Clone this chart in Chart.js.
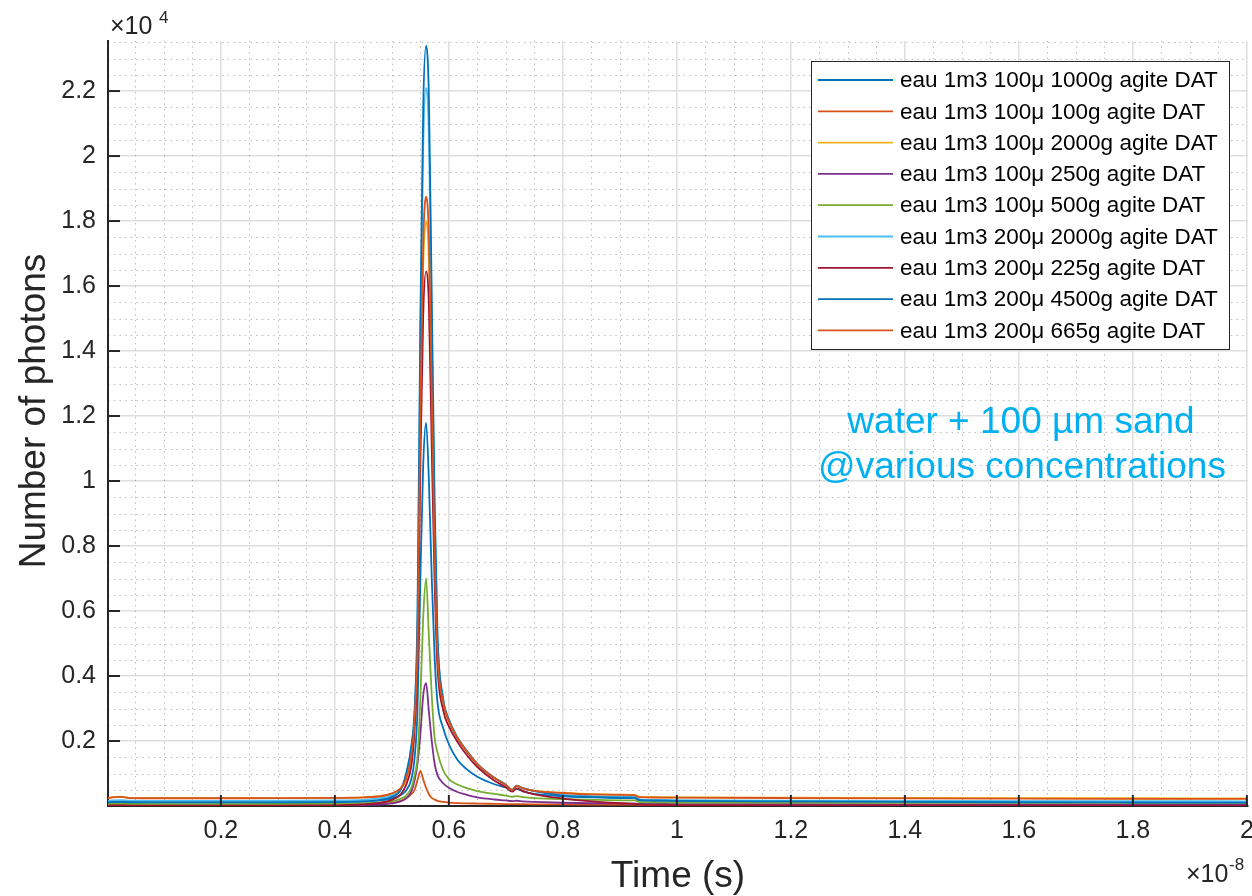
<!DOCTYPE html>
<html>
<head>
<meta charset="utf-8">
<script src="https://cdn.jsdelivr.net/npm/chart.js@4.4.1/dist/chart.umd.min.js"></script>
<style>
html,body{margin:0;padding:0;background:#ffffff;}
canvas{display:block;}
</style>
</head>
<body>
<canvas id="c" width="1252" height="896"></canvas>
<script>
// ---- data (time in units of 1e-8 s, counts in photons) ----
const time = [0.002,0.010,0.025,0.040,0.100,0.200,0.300,0.400,0.450,0.480,0.500,0.515,0.525,0.535,0.540,0.545,0.550,0.555,0.560,0.565,0.570,0.575,0.580,0.590,0.600,0.615,0.630,0.650,0.680,0.700,0.711,0.719,0.730,0.750,0.800,0.850,0.900,0.925,0.935,0.960,1.000,1.200,1.400,1.600,1.800,2.002];

const seriesNames = [
  'eau 1m3 100\u03bc 1000g agite DAT',
  'eau 1m3 100\u03bc 100g agite DAT',
  'eau 1m3 100\u03bc 2000g agite DAT',
  'eau 1m3 100\u03bc 250g agite DAT',
  'eau 1m3 100\u03bc 500g agite DAT',
  'eau 1m3 200\u03bc 2000g agite DAT',
  'eau 1m3 200\u03bc 225g agite DAT',
  'eau 1m3 200\u03bc 4500g agite DAT',
  'eau 1m3 200\u03bc 665g agite DAT'
];

const s100u1000g = [115,125,130,118,115,115,117,122,140,175,230,330,480,880,1500,3000,7000,10500,11800,10000,7000,4600,3200,2400,1900,1420,1150,900,670,570,480,530,450,370,300,265,245,240,170,160,155,145,138,132,128,125];
const s100u100g  = [35,42,45,36,33,33,35,40,55,75,100,150,230,380,500,800,1080,820,560,360,250,195,160,125,105,90,82,75,66,60,56,58,55,52,48,45,43,42,38,37,36,34,33,32,31,30];
const s100u2000g = [245,270,285,250,240,240,242,250,265,300,380,520,800,1550,2600,4800,11500,16600,18000,16800,12100,7500,4600,3150,2600,2080,1700,1290,870,665,500,625,550,470,410,365,350,345,280,272,268,258,250,243,238,235];
const s100u250g  = [10,14,16,11,10,10,12,18,30,50,80,140,240,480,800,1300,2200,3400,3780,2900,2000,1300,950,700,560,430,350,265,200,170,150,162,145,128,100,85,78,75,65,62,60,55,52,50,48,46];
const s100u500g  = [60,66,70,62,60,60,62,68,85,110,150,220,320,600,950,1500,3300,5800,7000,5200,3400,2100,1650,1100,830,660,560,460,370,320,285,305,275,245,210,190,175,170,120,112,108,102,100,98,96,95];
const s200u2000g = [160,172,178,165,160,160,162,170,190,240,330,500,950,1900,2900,5700,14200,20300,22100,20600,14800,9000,5200,3300,2680,2120,1740,1300,870,660,500,625,550,465,345,305,285,280,205,190,180,165,156,150,147,145];
const s200u225g  = [12,18,20,14,12,12,14,22,50,100,190,350,650,1350,2400,4400,10500,15100,16450,15400,11000,6900,4300,2950,2450,1980,1600,1200,780,580,440,540,460,360,230,140,85,70,40,32,28,22,18,15,13,12];
const s200u4500g = [110,120,125,115,110,110,112,120,140,190,280,480,1000,1950,3000,6000,15000,21500,23400,21800,15600,9400,5300,3300,2650,2100,1720,1290,860,650,490,615,540,460,320,280,260,255,185,170,160,140,125,115,108,102];
const s200u665g  = [240,265,280,245,238,238,240,250,265,300,390,540,850,1650,2700,5000,12000,17300,18750,17500,12600,7800,4700,3200,2620,2100,1720,1290,860,650,490,615,545,465,400,355,340,335,270,262,258,245,235,228,222,218];

const xTickValues = [0.2,0.4,0.6,0.8,1.0,1.2,1.4,1.6,1.8,2.0];
const xTickLabels = ['0.2','0.4','0.6','0.8','1','1.2','1.4','1.6','1.8','2'];
const yTickValues = [2000,4000,6000,8000,10000,12000,14000,16000,18000,20000,22000];
const yTickLabels = ['0.2','0.4','0.6','0.8','1','1.2','1.4','1.6','1.8','2','2.2'];

const xTitle = 'Time (s)';
const yTitle = 'Number of photons';
const annotationLines = ['water + 100 \u00b5m sand', '@various concentrations'];

// ---- styling ----
const seriesValues = [s100u1000g,s100u100g,s100u2000g,s100u250g,s100u500g,s200u2000g,s200u225g,s200u4500g,s200u665g];
const colors = ['#0072BD','#D95319','#EDB120','#7E2F8E','#77AC30','#4DBEEE','#A2142F','#0072BD','#D95319'];
const FONT = "'Liberation Sans', Arial, Helvetica, sans-serif";
const AX = '#262626';

const minorGrid = {
  id: 'minorGrid',
  beforeDatasetsDraw(chart) {
    const {ctx, chartArea: a, scales: {x, y}} = chart;
    ctx.save();
    ctx.beginPath(); ctx.rect(a.left, a.top, a.right - a.left, a.bottom - a.top); ctx.clip();
    ctx.strokeStyle = 'rgba(38,38,38,0.30)';
    ctx.lineWidth = 1;
    ctx.setLineDash([1.5, 4.2]);
    for (let k = 1; k <= 40; k++) {
      if (k % 4 === 0) continue;
      const px = Math.round(x.getPixelForValue(k * 0.05)) + 0.5;
      ctx.beginPath(); ctx.moveTo(px, a.bottom); ctx.lineTo(px, a.top); ctx.stroke();
    }
    for (let k = 1; k * 500 < y.max; k++) {
      if (k % 4 === 0) continue;
      const py = Math.round(y.getPixelForValue(k * 500)) + 0.5;
      ctx.beginPath(); ctx.moveTo(a.left, py); ctx.lineTo(a.right, py); ctx.stroke();
    }
    ctx.restore();
  }
};

const innerTicks = {
  id: 'innerTicks',
  afterDatasetsDraw(chart) {
    const {ctx, chartArea: a, scales: {x, y}} = chart;
    ctx.save();
    ctx.strokeStyle = AX;
    ctx.lineWidth = 2;
    xTickValues.forEach(v => {
      const px = x.getPixelForValue(v);
      ctx.beginPath(); ctx.moveTo(px, a.bottom); ctx.lineTo(px, a.bottom - 11); ctx.stroke();
    });
    yTickValues.forEach(v => {
      const py = y.getPixelForValue(v);
      ctx.beginPath(); ctx.moveTo(a.left, py); ctx.lineTo(a.left + 12, py); ctx.stroke();
    });
    ctx.restore();
  }
};

const legendBox = {
  id: 'legendBox',
  afterDatasetsDraw(chart) {
    const {ctx} = chart;
    const ds = chart.data.datasets;
    const L = 811, T = 61, W = 418, H = 288, rowH = 31.3, firstY = 80;
    ctx.save();
    ctx.fillStyle = '#ffffff';
    ctx.fillRect(L, T, W, H);
    ctx.strokeStyle = AX; ctx.lineWidth = 1;
    ctx.strokeRect(L + 0.5, T + 0.5, W, H);
    ctx.font = '22.5px ' + FONT;
    ctx.textBaseline = 'middle';
    ctx.textAlign = 'left';
    ds.forEach((d, i) => {
      const yy = firstY + i * rowH;
      ctx.strokeStyle = d.borderColor; ctx.lineWidth = 1.8;
      ctx.beginPath(); ctx.moveTo(818, yy); ctx.lineTo(893, yy); ctx.stroke();
      ctx.fillStyle = '#000000';
      ctx.fillText(d.label, 900, yy + 1);
    });
    ctx.restore();
  }
};

const extraText = {
  id: 'extraText',
  afterDraw(chart) {
    const {ctx} = chart;
    ctx.save();
    ctx.fillStyle = AX;
    ctx.textAlign = 'left';
    ctx.textBaseline = 'alphabetic';
    ctx.font = '25px ' + FONT;
    ctx.fillText('\u00d710', 110, 34);
    ctx.fillText('\u00d710', 1186, 882);
    ctx.font = '17px ' + FONT;
    ctx.fillText('4', 159, 23);
    ctx.fillText('-8', 1229, 870);
    // y axis title
    ctx.save();
    ctx.translate(45, 411);
    ctx.rotate(-Math.PI / 2);
    ctx.textAlign = 'center';
    ctx.font = '37px ' + FONT;
    ctx.fillText(yTitle, 0, 0);
    ctx.restore();
    // annotation
    ctx.fillStyle = '#00B0F0';
    ctx.textAlign = 'center';
    ctx.font = '37px ' + FONT;
    ctx.fillText(annotationLines[0], 1021, 433);
    ctx.fillText(annotationLines[1], 1022, 478);
    ctx.restore();
  }
};

new Chart(document.getElementById('c'), {
  type: 'line',
  data: {
    datasets: seriesNames.map((name, i) => ({
      label: name,
      data: time.map((t, j) => ({x: t, y: seriesValues[i][j]})),
      borderColor: colors[i],
      backgroundColor: colors[i],
      borderWidth: 1.8,
      pointRadius: 0,
      fill: false,
      cubicInterpolationMode: 'monotone',
      order: seriesNames.length - i
    }))
  },
  options: {
    responsive: false,
    animation: false,
    devicePixelRatio: 1,
    layout: {padding: {top: 41, right: 4, left: 0, bottom: 0}},
    plugins: {legend: {display: false}, tooltip: {enabled: false}},
    scales: {
      x: {
        type: 'linear', min: 0.002, max: 2.002,
        afterBuildTicks: s => { s.ticks = xTickValues.map(v => ({value: v})); },
        afterFit: s => { s.height = 90; s.paddingLeft = 0; s.paddingRight = 0; },
        ticks: {
          callback: (v, i) => xTickLabels[i],
          color: AX, font: {family: FONT, size: 25}, padding: 10, maxRotation: 0, autoSkip: false
        },
        grid: {color: '#dedede', lineWidth: 1.5, drawTicks: false},
        border: {display: true, color: AX, width: 2},
        title: {display: true, text: xTitle, color: AX, font: {family: FONT, size: 37, lineHeight: 1.05}, padding: 0}
      },
      y: {
        type: 'linear', min: 0, max: 23540,
        afterBuildTicks: s => { s.ticks = yTickValues.map(v => ({value: v})); },
        afterFit: s => { s.width = 108; s.paddingTop = 0; s.paddingBottom = 0; },
        ticks: {
          callback: (v, i) => yTickLabels[i],
          color: AX, font: {family: FONT, size: 25}, padding: 12, autoSkip: false
        },
        grid: {color: '#dedede', lineWidth: 1.5, drawTicks: false},
        border: {display: true, color: AX, width: 2},
        title: {display: false, text: yTitle}
      }
    }
  },
  plugins: [minorGrid, innerTicks, legendBox, extraText]
});
</script>
</body>
</html>
